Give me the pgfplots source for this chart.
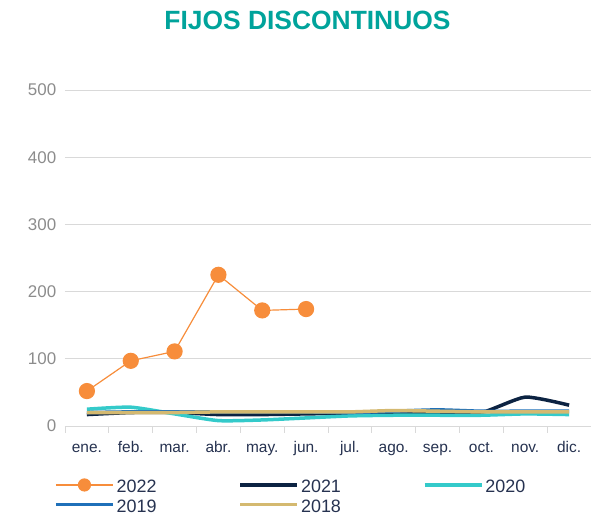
\documentclass[border=0pt]{standalone}
\usepackage{pgfplots}
\pgfplotsset{compat=1.18}
\usepackage{fontspec}
\setmainfont{Liberation Sans}
\definecolor{titleteal}{RGB}{0,163,155}
\definecolor{c2022}{RGB}{247,141,59}
\definecolor{c2021}{RGB}{12,35,66}
\definecolor{c2020}{RGB}{52,202,202}
\definecolor{c2019}{RGB}{31,112,185}
\definecolor{c2018}{RGB}{212,185,112}
\definecolor{gridgray}{RGB}{217,217,217}
\definecolor{ylab}{RGB}{140,140,140}
\definecolor{navytext}{RGB}{38,50,80}
\begin{document}
\begin{tikzpicture}[x=1bp,y=1bp]
\path[use as bounding box] (-65,-91) rectangle (526,426);
\begin{axis}[
  at={(0,0)}, anchor=south west,
  width=526bp, height=336bp, scale only axis,
  xmin=-0.5, xmax=11.5, ymin=0, ymax=500,
  xtick={0,...,11},
  xticklabels={ene.,feb.,mar.,abr.,may.,jun.,jul.,ago.,sep.,oct.,nov.,dic.},
  minor xtick={-0.5,0.5,...,11.5},
  ytick={0,100,...,500},
  axis x line*=bottom, axis y line*=left,
  axis line style={-, draw=gridgray, line width=0.9pt},
  y axis line style={draw=none},
  major tick style={draw=none},
  minor tick style={draw=gridgray, line width=0.9pt},
  tick align=outside, minor tick length=7bp,
  ymajorgrids, grid style={draw=gridgray, line width=0.9pt},
  /pgf/number format/assume math mode=true,
  yticklabel style={font=\fontsize{17}{19}\selectfont, text=ylab, xshift=-1bp},
  xticklabel style={font=\fontsize{15.5}{17}\selectfont, text=navytext, anchor=base, yshift=-22bp},
  legend columns=3,
  legend cell align=left,
  legend style={at={(0,0)}, anchor=north west, xshift=-11bp, yshift=-52bp,
    draw=none, fill=none, inner sep=0pt, row sep=3bp,
    font=\fontsize{18}{20}\selectfont, text=navytext,
    nodes={text depth=0pt},
    /tikz/every even column/.append style={column sep=80bp}},
  legend image code/.code={\draw[mark repeat=2,mark phase=2,#1,mark size=6bp] plot coordinates {(0bp,1.5bp) (28.5bp,1.5bp) (57bp,1.5bp)};},
]
\addplot[c2022, line width=1.2pt, mark=*, mark size=7.5bp, mark options={fill=c2022, draw=c2022}]
  coordinates {(0,52) (1,97) (2,111) (3,225) (4,172) (5,174)};
\addlegendentry{2022}
\addplot[c2021, line width=3.5bp, smooth, tension=0.35]
  coordinates {(0,17) (1,20) (2,20) (3,17) (4,17) (5,18) (6,19) (7,19) (8,20) (9,20) (10,43) (11,31)};
\addlegendentry{2021}
\addplot[c2020, line width=3.5bp, smooth, tension=0.35]
  coordinates {(0,25) (1,28) (2,18) (3,8) (4,9) (5,12) (6,15) (7,16) (8,16) (9,16) (10,18) (11,17)};
\addlegendentry{2020}
\addplot[c2019, line width=3.5bp, smooth, tension=0.35]
  coordinates {(0,20) (1,21) (2,21) (3,21) (4,21) (5,21) (6,20) (7,22) (8,24) (9,22) (10,22) (11,22)};
\addlegendentry{2019}
\addplot[c2018, line width=3.5bp, smooth, tension=0.35]
  coordinates {(0,20) (1,20) (2,20) (3,21) (4,21) (5,21) (6,21) (7,23) (8,22) (9,21) (10,21) (11,21)};
\addlegendentry{2018}
\end{axis}
\node[font=\bfseries\fontsize{26.5}{30}\selectfont, text=titleteal] at (242.5,406) {FIJOS DISCONTINUOS};
\end{tikzpicture}
\end{document}
